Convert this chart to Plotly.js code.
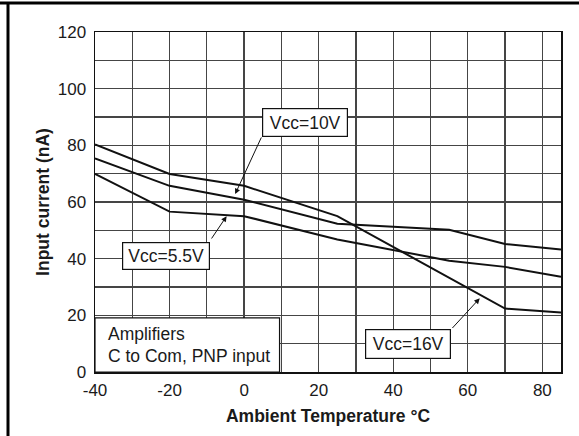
<!DOCTYPE html>
<html>
<head>
<meta charset="utf-8">
<script src="https://cdn.plot.ly/plotly-3.0.1.min.js"></script>
<style>
html,body{margin:0;padding:0;background:#fff;}
#chart{width:579px;height:436px;}
</style>
</head>
<body>
<div id="chart"></div>
<script>
// Data
var tempVcc16 = [-40, -20, 0, 25, 70, 85];
var currVcc16 = [80.3, 69.9, 65.7, 55.0, 22.4, 21.0];

var tempVcc10 = [-40, -20, 0, 25, 55, 70, 85];
var currVcc10 = [75.4, 65.7, 60.8, 52.3, 50.2, 45.2, 43.2];

var tempVcc55 = [-40, -20, 0, 25, 55, 70, 85];
var currVcc55 = [69.9, 56.6, 55.0, 46.8, 39.3, 37.1, 33.6];

var xTickVals = [-40, -20, 0, 20, 40, 60, 80];
var xTickText = ["-40", "-20", "0", "20", "40", "60", "80"];
var yTickVals = [0, 20, 40, 60, 80, 100, 120];
var yTickText = ["0", "20", "40", "60", "80", "100", "120"];

var labelVcc10 = "Vcc=10V";
var labelVcc55 = "Vcc=5.5V";
var labelVcc16 = "Vcc=16V";
var noteLines = ["Amplifiers", "C to Com, PNP input"];

var FONT = "'Liberation Sans', Arial, sans-serif";
var TXT = "#1a1a1a";
var GRID = "#454545";

function line(x, y, name) {
  return {x: x, y: y, name: name, type: "scatter", mode: "lines",
          line: {color: "#111", width: 2}, hoverinfo: "skip", showlegend: false};
}

var traces = [
  line(tempVcc16, currVcc16, labelVcc16),
  line(tempVcc10, currVcc10, labelVcc10),
  line(tempVcc55, currVcc55, labelVcc55)
];

function box(text, cx, cy, w, h) {
  return {x: cx, y: cy, xref: "x", yref: "y", text: text, showarrow: false,
          font: {family: FONT, size: 17.5, color: TXT},
          bgcolor: "#fff", bordercolor: "#111", borderwidth: 1.2, borderpad: 0,
          width: w, height: h, align: "center", valign: "middle"};
}
function arrow(hx, hy, tx, ty) {
  return {x: hx, y: hy, ax: tx, ay: ty, xref: "x", yref: "y", axref: "x", ayref: "y",
          text: "", showarrow: true, arrowhead: 2, arrowsize: 1.1, arrowwidth: 1,
          arrowcolor: "#111", standoff: 0, startstandoff: 0};
}

var annotations = [
  arrow(-2.4, 62.8, 4.8, 83.3),
  arrow(-4.7, 55.0, -9.0, 46.6),
  arrow(63.2, 26.0, 55.5, 15.0),
  box(labelVcc10, 16.2, 88.1, 84, 27),
  box(labelVcc55, -20.9, 41.1, 86, 26),
  box(labelVcc16, 43.9, 9.9, 84, 28),
  {x: -37.0, y: 13.5, xref: "x", yref: "y", xanchor: "left", text: noteLines[0],
   showarrow: false, font: {family: FONT, size: 17.5, color: TXT}},
  {x: -37.0, y: 5.6, xref: "x", yref: "y", xanchor: "left", text: noteLines[1],
   showarrow: false, font: {family: FONT, size: 17.5, color: TXT}}
];

var shapes = [
  {type: "rect", xref: "x", yref: "y", x0: -40, x1: 9.5, y0: 0, y1: 19.1,
   fillcolor: "#fff", line: {color: "#111", width: 1.2}, layer: "above"},
  // outer frame lines of the figure
  {type: "line", xref: "paper", yref: "paper", x0: -95/466, x1: 484/466,
   y0: 369/340, y1: 369/340, line: {color: "#000", width: 3}},
  {type: "line", xref: "paper", yref: "paper", x0: -87/466, x1: -87/466,
   y0: 369/340, y1: -64/340, line: {color: "#000", width: 3}}
];

var axisCommon = {
  showline: true, mirror: true, linecolor: "#111", linewidth: 1.5,
  showgrid: true, gridcolor: GRID, gridwidth: 1.3,
  ticks: "", zeroline: false, fixedrange: true,
  tickfont: {family: FONT, size: 17, color: TXT}
};

var layout = {
  width: 579, height: 436,
  margin: {l: 95, r: 18, t: 32, b: 64, pad: 0},
  paper_bgcolor: "#fff", plot_bgcolor: "#fff",
  font: {family: FONT, color: TXT},
  xaxis: Object.assign({}, axisCommon, {
    range: [-40, 85], tickmode: "array", tickvals: xTickVals, ticktext: xTickText,
    minor: {dtick: 10, tick0: -40, showgrid: true, gridcolor: GRID, gridwidth: 1.3},
    ticklabelstandoff: 2,
    title: {text: "<b>Ambient Temperature °C</b>", font: {family: FONT, size: 17.5, color: TXT}, standoff: 11}
  }),
  yaxis: Object.assign({}, axisCommon, {
    range: [0, 120], tickmode: "array", tickvals: yTickVals, ticktext: yTickText,
    minor: {dtick: 10, tick0: 0, showgrid: true, gridcolor: GRID, gridwidth: 1.3},
    ticklabelstandoff: 4,
    title: {text: "<b>Input current (nA)</b>", font: {family: FONT, size: 17.5, color: TXT}, standoff: 3}
  }),
  annotations: annotations,
  shapes: shapes,
  showlegend: false
};

Plotly.newPlot("chart", traces, layout, {displayModeBar: false, staticPlot: true});
</script>
</body>
</html>
